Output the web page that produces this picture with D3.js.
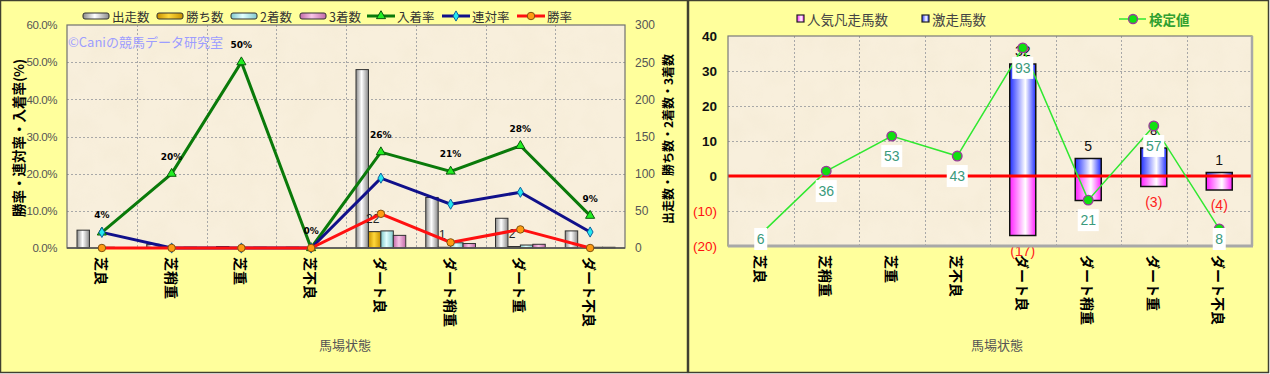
<!DOCTYPE html>
<html>
<head>
<meta charset="utf-8">
<style>
    body {
        margin: 0px;
        background: #ffffff;
    }
    svg {
        display: block;
        font-family: "Noto Sans CJK JP", sans-serif;
    }
</style>
</head>
<body>
<svg id="viz" width="1270" height="374"></svg>
<script src="https://d3js.org/d3.v7.min.js"></script>
<script>
// ---- data ----
var categories = ["芝良", "芝稍重", "芝重", "芝不良", "ダート良", "ダート稍重", "ダート重", "ダート不良"];

// left chart: counts
var starts  = [24, 5, 2, 1, 240, 68, 40, 23];
var wins    = [0, 0, 0, 0, 22, 1, 2, 0];
var seconds = [1, 0, 0, 0, 23, 7, 4, 1];
var thirds  = [0, 1, 1, 0, 17, 6, 5, 1];

// left chart: rates (%)
var placeRate  = [4.2, 20.0, 50.0, 0, 25.8, 20.6, 27.5, 8.7];
var rentaiRate = [4.2, 0, 0, 0, 18.8, 11.8, 15.0, 4.3];
var winRate    = [0, 0, 0, 0, 9.2, 1.5, 5.0, 0];

var rateTicks  = [0, 10, 20, 30, 40, 50, 60];
var countTicks = [0, 50, 100, 150, 200, 250, 300];

// right chart
var gekisou  = [0, 0, 0, 0, 32, 5, 8, 1];      // 激走馬数
var bonsou   = [0, 0, 0, 0, -17, -7, -3, -4];  // 人気凡走馬数
var kentei   = [-16.6, 1.4, 11.4, 5.7, 36.6, -6.9, 14.3, -15.1]; // 検定値 (plotted)
var kenteiLabels = [6, 36, 53, 43, 93, 21, 57, 8];
var rightTicks = [-20, -10, 0, 10, 20, 30, 40];

var svg = d3.select("#viz");
var defs = svg.append("defs");

function cylinder(id, edge, mid, midAt) {
    var g = defs.append("linearGradient").attr("id", id)
        .attr("x1", "0").attr("x2", "1").attr("y1", "0").attr("y2", "0");
    g.append("stop").attr("offset", "0%").attr("stop-color", edge);
    g.append("stop").attr("offset", midAt || "45%").attr("stop-color", mid);
    g.append("stop").attr("offset", "100%").attr("stop-color", edge);
}
cylinder("gStart", "#8a8a8a", "#ffffff");
cylinder("gWin", "#c89200", "#ffd83a");
cylinder("gSecond", "#80c8cc", "#e2ffff");
cylinder("gThird", "#c26aa8", "#f8c4e6");
cylinder("gBlue", "#2230ff", "#ffffff", "60%");
cylinder("gPink", "#ff20ff", "#ffffff", "60%");

// paper texture for plot areas
var f = defs.append("filter").attr("id", "paper")
    .attr("x", 0).attr("y", 0).attr("width", 1).attr("height", 1);
f.append("feTurbulence").attr("type", "fractalNoise")
    .attr("baseFrequency", "0.035").attr("numOctaves", 3).attr("seed", 4).attr("result", "n");
f.append("feColorMatrix").attr("in", "n").attr("type", "matrix")
    .attr("values", "0 0 0 0 0.86  0 0 0 0 0.78  0 0 0 0 0.6  1.6 0 0 0 -0.62");

var bgYellow = "#ffff9c";

function plotBg(x0, y0, x1, y1) {
    svg.append("rect").attr("x", x0).attr("y", y0).attr("width", x1 - x0).attr("height", y1 - y0)
        .attr("fill", "#f8efdc");
    svg.append("rect").attr("x", x0).attr("y", y0).attr("width", x1 - x0).attr("height", y1 - y0)
        .attr("fill", "#000").attr("filter", "url(#paper)").attr("opacity", 0.3);
}

function grid(x, y, yTicks, x0, x1, y0, y1) {
    var g = svg.append("g").attr("stroke", "#a8a8a8").attr("stroke-dasharray", "2,2").attr("stroke-width", 1);
    g.selectAll(".h").data(yTicks).enter().append("line")
        .attr("x1", x0).attr("x2", x1)
        .attr("y1", function(d) { return Math.round(y(d)) + 0.5; })
        .attr("y2", function(d) { return Math.round(y(d)) + 0.5; });
    g.selectAll(".v").data(categories.slice(1)).enter().append("line")
        .attr("y1", y0).attr("y2", y1)
        .attr("x1", function(d) { return Math.round(x(d)) + 0.5; })
        .attr("x2", function(d) { return Math.round(x(d)) + 0.5; });
}

function xLabels(x, yTop, shift) {
    var ax = svg.append("g").attr("transform", "translate(0," + yTop + ")")
        .call(d3.axisBottom(x).tickSize(0));
    ax.select(".domain").remove();
    ax.selectAll("text")
        .attr("y", 0).attr("dy", null).attr("x", 0)
        .attr("transform", "translate(0," + shift + ") rotate(90)")
        .attr("text-anchor", "start")
        .attr("dominant-baseline", "central")
        .style("font-family", "Noto Sans CJK JP")
        .style("font-size", "14px")
        .style("font-weight", "bold")
        .attr("fill", "#000");
}

// ================= LEFT CHART =================
svg.append("rect").attr("x", 0.5).attr("y", 0.5).attr("width", 687).attr("height", 372)
    .attr("fill", bgYellow).attr("stroke", "#404030").attr("stroke-width", 1.5);

var L = { x0: 67, x1: 625, y0: 25, y1: 248 };
var xL = d3.scaleBand().domain(categories).range([L.x0, L.x1]);
var yRate = d3.scaleLinear().domain([0, 60]).range([L.y1, L.y0]);
var yCount = d3.scaleLinear().domain([0, 300]).range([L.y1, L.y0]);
var xSub = d3.scaleBand().domain(d3.range(4)).range([10, xL.bandwidth() - 10]);

plotBg(L.x0, L.y0, L.x1, L.y1);
grid(xL, yRate, [10, 20, 30, 40, 50], L.x0, L.x1, L.y0, L.y1);

svg.append("text").attr("x", 68).attr("y", 47)
    .attr("fill", "#9d9dff").style("font-size", "13px")
    .text("©Caniの競馬データ研究室");

// bars
var barSeries = [
    { name: "出走数", values: starts,  fill: "url(#gStart)" },
    { name: "勝ち数", values: wins,    fill: "url(#gWin)" },
    { name: "2着数",  values: seconds, fill: "url(#gSecond)" },
    { name: "3着数",  values: thirds,  fill: "url(#gThird)" }
];
barSeries.forEach(function(s, si) {
    svg.append("g").selectAll("rect").data(s.values).enter().append("rect")
        .attr("x", function(d, i) { return xL(categories[i]) + xSub(si); })
        .attr("width", xSub.bandwidth())
        .attr("y", function(d) { return yCount(d); })
        .attr("height", function(d) { return yCount(0) - yCount(d); })
        .attr("fill", s.fill)
        .attr("stroke", function(d) { return d > 0 ? "#303030" : "none"; })
        .attr("stroke-width", 1);
});

// win count labels
svg.append("g").selectAll("text").data(wins).enter().append("text")
    .filter(function(d) { return d > 0; })
    .attr("x", function(d) { return xL(categories[wins.indexOf(d)]) + xSub(1) + xSub.bandwidth() / 2 - 2; })
    .attr("y", function(d) { return yCount(d) - 12.5; })
    .attr("text-anchor", "middle").attr("dominant-baseline", "central")
    .style("font-family", "Liberation Sans").style("font-size", "12px").attr("fill", "#222")
    .text(function(d) { return d; });

// plot frame
svg.append("rect").attr("x", L.x0).attr("y", L.y0).attr("width", L.x1 - L.x0).attr("height", L.y1 - L.y0)
    .attr("fill", "none").attr("stroke", "#707070").attr("stroke-width", 1.2);
svg.append("line").attr("x1", L.x0).attr("x2", L.x1).attr("y1", L.y1).attr("y2", L.y1)
    .attr("stroke", "#505050").attr("stroke-width", 1.5);

// rate lines
var cx = function(i) { return xL(categories[i]) + xL.bandwidth() / 2; };
var lineSeries = [
    { name: "入着率", values: placeRate,  color: "#0a7a0a", mfill: "#22ee22", mstroke: "#0a5a0a", sym: d3.symbolTriangle, size: 36 },
    { name: "連対率", values: rentaiRate, color: "#10108a", mfill: "#22e8f0", mstroke: "#1060a0", sym: d3.symbolDiamond, size: 30 },
    { name: "勝率",   values: winRate,    color: "#ff1010", mfill: "#ff9c10", mstroke: "#805010", sym: d3.symbolCircle, size: 44 }
];
lineSeries.forEach(function(s) {
    var line = d3.line().x(function(d, i) { return cx(i); }).y(function(d) { return yRate(d); });
    svg.append("path").datum(s.values).attr("d", line)
        .attr("fill", "none").attr("stroke", s.color).attr("stroke-width", 3);
});
lineSeries.forEach(function(s) {
    svg.append("g").selectAll("path").data(s.values).enter().append("path")
        .attr("transform", function(d, i) { return "translate(" + cx(i) + "," + yRate(d) + ")"; })
        .attr("d", d3.symbol().type(s.sym).size(s.size))
        .attr("fill", s.mfill).attr("stroke", s.mstroke).attr("stroke-width", 1);
});

// 入着率 labels
svg.append("g").selectAll("text").data(placeRate).enter().append("text")
    .attr("x", function(d, i) { return cx(i); })
    .attr("y", function(d) { return yRate(d) - 17; })
    .attr("text-anchor", "middle").attr("dominant-baseline", "central")
    .style("font-family", "DejaVu Sans").style("font-size", "9px").style("font-weight", "bold")
    .attr("fill", "#000")
    .text(function(d) { return Math.round(d) + "%"; });

// axes
var axL = svg.append("g").attr("transform", "translate(" + L.x0 + ",0)")
    .call(d3.axisLeft(yRate).tickValues(rateTicks).tickSize(0).tickPadding(10)
        .tickFormat(function(d) { return d.toFixed(1) + "%"; }));
axL.select(".domain").remove();
axL.selectAll("text").style("font-family", "Liberation Sans").style("font-size", "11.5px")
    .style("letter-spacing", "-0.4px").attr("fill", "#555");

var axR = svg.append("g").attr("transform", "translate(" + L.x1 + ",0)")
    .call(d3.axisRight(yCount).tickValues(countTicks).tickSize(0).tickPadding(10));
axR.select(".domain").remove();
axR.selectAll("text").style("font-family", "Liberation Sans").style("font-size", "12px").attr("fill", "#555");

xLabels(xL, L.y1, 9);

svg.append("text").attr("transform", "translate(18,138) rotate(-90)")
    .attr("text-anchor", "middle").attr("dominant-baseline", "central")
    .style("font-size", "13.5px").style("font-weight", "bold").attr("fill", "#000")
    .text("勝率・連対率・入着率(%)");
svg.append("text").attr("transform", "translate(667,139) rotate(-90)")
    .attr("text-anchor", "middle").attr("dominant-baseline", "central")
    .style("font-size", "12px").style("font-weight", "bold").attr("fill", "#000")
    .text("出走数・勝ち数・2着数・3着数");
svg.append("text").attr("x", 345).attr("y", 350).attr("text-anchor", "middle")
    .style("font-size", "13px").attr("fill", "#555").text("馬場状態");

// legend
var legBarX = [83, 157, 231, 300];
barSeries.forEach(function(s, i) {
    svg.append("rect").attr("x", legBarX[i]).attr("y", 13).attr("width", 26).attr("height", 6)
        .attr("rx", 2).attr("fill", s.fill).attr("stroke", "#303030").attr("stroke-width", 1);
    svg.append("text").attr("x", legBarX[i] + 29).attr("y", 16)
        .attr("dominant-baseline", "central").style("font-size", "12.5px").attr("fill", "#333")
        .text(s.name);
});
var legLineX = [367, 442, 517];
lineSeries.forEach(function(s, i) {
    svg.append("line").attr("x1", legLineX[i]).attr("x2", legLineX[i] + 28).attr("y1", 16).attr("y2", 16)
        .attr("stroke", s.color).attr("stroke-width", 3);
    svg.append("path").attr("transform", "translate(" + (legLineX[i] + 14) + ",16)")
        .attr("d", d3.symbol().type(s.sym).size(s.size))
        .attr("fill", s.mfill).attr("stroke", s.mstroke).attr("stroke-width", 1);
    svg.append("text").attr("x", legLineX[i] + 30).attr("y", 16)
        .attr("dominant-baseline", "central").style("font-size", "12.5px").attr("fill", "#333")
        .text(s.name);
});

// ================= RIGHT CHART =================
svg.append("rect").attr("x", 688.5).attr("y", 0.5).attr("width", 580).attr("height", 372)
    .attr("fill", bgYellow).attr("stroke", "#404030").attr("stroke-width", 1.5);

var R = { x0: 728, x1: 1252, y0: 36, y1: 246 };
var xR = d3.scaleBand().domain(categories).range([R.x0, R.x1]);
var yR = d3.scaleLinear().domain([-20, 40]).range([R.y1, R.y0]);
var barW = 26;
var rcx = function(i) { return xR(categories[i]) + xR.bandwidth() / 2; };

plotBg(R.x0, R.y0, R.x1, R.y1);
grid(xR, yR, [-10, 0, 10, 20, 30], R.x0, R.x1, R.y0, R.y1);

svg.append("g").selectAll("rect").data(gekisou).enter().append("rect")
    .filter(function(d) { return d !== 0; })
    .attr("x", function(d) { return rcx(gekisou.indexOf(d)) - barW / 2; })
    .attr("width", barW)
    .attr("y", function(d) { return yR(d); })
    .attr("height", function(d) { return yR(0) - yR(d); })
    .attr("fill", "url(#gBlue)").attr("stroke", "#111").attr("stroke-width", 1.5);
svg.append("g").selectAll("rect").data(bonsou).enter().append("rect")
    .filter(function(d) { return d !== 0; })
    .attr("x", function(d) { return rcx(bonsou.indexOf(d)) - barW / 2; })
    .attr("width", barW)
    .attr("y", yR(0))
    .attr("height", function(d) { return yR(d) - yR(0); })
    .attr("fill", "url(#gPink)").attr("stroke", "#111").attr("stroke-width", 1.5);

svg.append("line").attr("x1", R.x0).attr("x2", R.x1).attr("y1", yR(0)).attr("y2", yR(0))
    .attr("stroke", "#ff0000").attr("stroke-width", 3);

// bar value labels
svg.append("g").selectAll("text").data(gekisou).enter().append("text")
    .filter(function(d) { return d !== 0; })
    .attr("x", function(d) { return rcx(gekisou.indexOf(d)); })
    .attr("y", function(d) { return yR(d) - 13; })
    .attr("text-anchor", "middle").attr("dominant-baseline", "central")
    .style("font-family", "Liberation Sans").style("font-size", "14px").attr("fill", "#111")
    .text(function(d) { return d; });
svg.append("g").selectAll("text").data(bonsou).enter().append("text")
    .filter(function(d) { return d !== 0; })
    .attr("x", function(d) { return rcx(bonsou.indexOf(d)); })
    .attr("y", function(d) { return yR(d) + 15; })
    .attr("text-anchor", "middle").attr("dominant-baseline", "central")
    .style("font-family", "Liberation Sans").style("font-size", "14px").attr("fill", "#ff2020")
    .text(function(d) { return "(" + (-d) + ")"; });

// frame
svg.append("rect").attr("x", R.x0).attr("y", R.y0).attr("width", R.x1 - R.x0).attr("height", R.y1 - R.y0)
    .attr("fill", "none").attr("stroke", "#7a7a7a").attr("stroke-width", 1.2);
svg.append("line").attr("x1", R.x0).attr("x2", R.x1 + 1).attr("y1", R.y1).attr("y2", R.y1)
    .attr("stroke", "#a8a8a8").attr("stroke-width", 3);
svg.append("line").attr("x1", R.x1).attr("x2", R.x1).attr("y1", R.y0).attr("y2", R.y1)
    .attr("stroke", "#a8a8a8").attr("stroke-width", 2.5);

// 検定値 line
var kLine = d3.line().x(function(d, i) { return rcx(i); }).y(function(d) { return yR(d); });
svg.append("path").datum(kentei).attr("d", kLine)
    .attr("fill", "none").attr("stroke", "#30e830").attr("stroke-width", 1.5);
svg.append("g").selectAll("circle").data(kentei).enter().append("circle")
    .attr("cx", function(d, i) { return rcx(i); })
    .attr("cy", function(d) { return yR(d); })
    .attr("r", 4.8)
    .attr("fill", "#10e010").attr("stroke", "#9a3a9a").attr("stroke-width", 1.3);

var kl = svg.append("g").selectAll("g").data(kenteiLabels).enter().append("g")
    .attr("transform", function(d, i) {
        return "translate(" + rcx(i) + "," + Math.min(yR(kentei[i]) + 20, 239) + ")";
    });
kl.append("rect")
    .attr("x", function(d) { return -(String(d).length * 8 + 5) / 2; })
    .attr("width", function(d) { return String(d).length * 8 + 5; })
    .attr("y", -11).attr("height", 22).attr("fill", "#fff");
kl.append("text").attr("text-anchor", "middle").attr("dominant-baseline", "central")
    .style("font-family", "Liberation Sans").style("font-size", "14px").attr("fill", "#3a9a7c")
    .text(function(d) { return d; });

// y axis
var axRR = svg.append("g").attr("transform", "translate(" + R.x0 + ",0)")
    .call(d3.axisLeft(yR).tickValues(rightTicks).tickSize(0).tickPadding(11)
        .tickFormat(function(d) { return d < 0 ? "(" + (-d) + ")" : d; }));
axRR.select(".domain").remove();
axRR.selectAll("text").style("font-family", "Liberation Sans").style("font-size", "13.5px")
    .style("font-weight", function(d) { return d < 0 ? "normal" : "bold"; })
    .attr("fill", function(d) { return d < 0 ? "#ff1010" : "#111"; });

xLabels(xR, R.y1, 9);

svg.append("text").attr("x", 997).attr("y", 350).attr("text-anchor", "middle")
    .style("font-size", "13px").attr("fill", "#555").text("馬場状態");

// legend
var rLeg = [
    { name: "人気凡走馬数", x: 797, fill: "url(#gPink)" },
    { name: "激走馬数",     x: 922, fill: "url(#gBlue)" }
];
rLeg.forEach(function(s) {
    svg.append("rect").attr("x", s.x).attr("y", 15).attr("width", 7).attr("height", 7)
        .attr("fill", s.fill).attr("stroke", "#222").attr("stroke-width", 1.2);
    svg.append("text").attr("x", s.x + 10).attr("y", 18.5)
        .attr("dominant-baseline", "central").style("font-size", "13.5px").attr("fill", "#444")
        .text(s.name);
});
svg.append("line").attr("x1", 1119).attr("x2", 1146).attr("y1", 19).attr("y2", 19)
    .attr("stroke", "#30e830").attr("stroke-width", 1.5);
svg.append("circle").attr("cx", 1133).attr("cy", 19).attr("r", 4.5)
    .attr("fill", "#10e010").attr("stroke", "#9a3a9a").attr("stroke-width", 1.3);
svg.append("text").attr("x", 1149).attr("y", 18.5)
    .attr("dominant-baseline", "central").style("font-size", "13.5px").style("font-weight", "bold")
    .attr("fill", "#30a030").text("検定値");
</script>
</body>
</html>
